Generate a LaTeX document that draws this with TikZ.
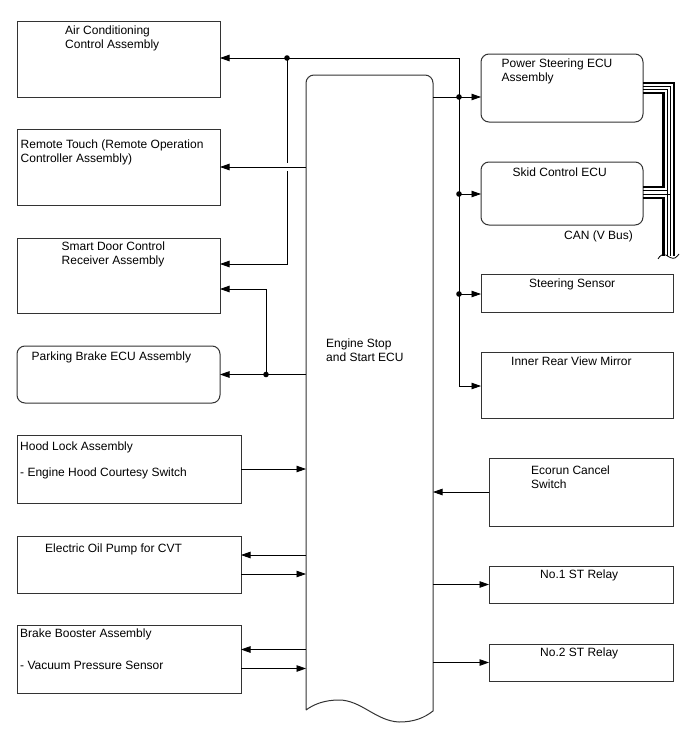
\documentclass[tikz,border=0pt]{standalone}
\usepackage{fontspec}
\setmainfont{Liberation Sans}
\usetikzlibrary{arrows.meta}
\begin{document}
\begin{tikzpicture}[x=1pt,y=-1pt,
  box/.style={draw=black!80, line width=1pt, rectangle, inner sep=0pt, outer sep=0pt, anchor=north west},
  rbox/.style={box, rounded corners=8pt},
  lbl/.style={anchor=north west, inner sep=0pt, align=left, font=\fontsize{12}{14}\selectfont},
  wire/.style={draw=black, line width=0.8pt},
  arr/.style={wire, -{Triangle[length=9.5pt,width=6.5pt]}},
  dot/.style={fill=black},
  canthick/.style={draw=black, line width=2.8pt},
  canthin/.style={draw=black, line width=0.8pt}]
\useasboundingbox (0,0) rectangle (688,755);
\fill[white] (0,0) rectangle (688,755);

% left boxes
\node[box, minimum width=203pt, minimum height=76pt] (ac) at (17,21) {};
\node[box, minimum width=203pt, minimum height=76pt] (rt) at (17,129) {};
\node[box, minimum width=203pt, minimum height=75pt] (sd) at (17,238) {};
\node[rbox, minimum width=203pt, minimum height=57pt] (pb) at (17,346) {};
\node[box, minimum width=224pt, minimum height=68pt] (hl) at (17,435) {};
\node[box, minimum width=224pt, minimum height=57pt] (eop) at (17,536) {};
\node[box, minimum width=224pt, minimum height=68pt] (bb) at (17,625) {};

% right boxes
\node[rbox, minimum width=162pt, minimum height=68pt] (ps) at (481,54) {};
\node[rbox, minimum width=162pt, minimum height=63pt] (sk) at (481,162) {};
\node[box, minimum width=192pt, minimum height=38pt] (ss) at (481,274) {};
\node[box, minimum width=192pt, minimum height=66pt] (irm) at (481,352) {};
\node[box, minimum width=184pt, minimum height=68pt] (ec) at (489,458) {};
\node[box, minimum width=184pt, minimum height=37pt] (r1) at (489,566) {};
\node[box, minimum width=184pt, minimum height=37pt] (r2) at (489,644) {};

% central ECU
\node[rectangle, inner sep=0pt, outer sep=0pt, anchor=north west, minimum width=127pt, minimum height=636pt] (ecu) at (306,75) {};
\draw[black!80, line width=1pt]
  (306,710) -- (306,83) arc[start angle=180, end angle=90, x radius=8pt, y radius=8pt]
  -- (425,75) arc[start angle=90, end angle=0, x radius=8pt, y radius=8pt]
  -- (433,711)
  .. controls (424,718) and (414,722) .. (399,722)
  .. controls (376,721) and (361,700) .. (339,700)
  .. controls (325,700) and (314,704) .. (306,710);

% labels
\node[lbl] (tac) at (65,25.5) {Air Conditioning\\Control Assembly};
\node[lbl] (trt) at (20.5,139.5) {Remote Touch (Remote Operation\\Controller Assembly)};
\node[lbl] (tsd) at (61.5,241.5) {Smart Door Control\\Receiver Assembly};
\node[lbl] (tpb) at (31.5,351.5) {Parking Brake ECU Assembly};
\node[lbl] (thl1) at (20,441.5) {Hood Lock Assembly};
\node[lbl] (thl2) at (20,467.5) {- Engine Hood Courtesy Switch};
\node[lbl] (teop) at (45,543.5) {Electric Oil Pump for CVT};
\node[lbl] (tbb1) at (20,628.5) {Brake Booster Assembly};
\node[lbl] (tbb2) at (20,660.5) {- Vacuum Pressure Sensor};
\node[lbl] (tecu) at (326,339) {Engine Stop\\and Start ECU};
\node[lbl] (tps) at (501.5,59) {Power Steering ECU\\Assembly};
\node[lbl] (tsk) at (512.5,168) {Skid Control ECU};
\node[lbl] (tcan) at (564,230.5) {CAN (V Bus)};
\node[lbl] (tss) at (529,279) {Steering Sensor};
\node[lbl] (tirm) at (511,357) {Inner Rear View Mirror};
\node[lbl] (tec) at (531,465.5) {Ecorun Cancel\\Switch};
\node[lbl] (tr1) at (540,569.5) {No.1 ST Relay};
\node[lbl] (tr2) at (540,647.5) {No.2 ST Relay};

% junction coordinates
\coordinate (jtop) at (459,58);
\coordinate (jps) at (459,97);
\coordinate (jsk) at (459,194);
\coordinate (jss) at (459,294);
\coordinate (jirm) at (459,386);
\coordinate (jac) at (287,58);
\coordinate (gapa) at (287,163);
\coordinate (gapb) at (287,171);
\coordinate (jsd1) at (287,264);
\coordinate (jsd2) at (266,289);
\coordinate (jpb) at (266,374.5);

% right bus
\draw[wire] (ecu.east |- jps) -- (jps);
\draw[arr] (jps) -- (ps.west |- jps);
\draw[arr] (jsk) -- (sk.west |- jsk);
\draw[arr] (jss) -- (ss.west |- jss);
\draw[arr] (jtop) -- (jirm) -- (irm.west |- jirm);
\draw[arr] (jtop) -- (ac.east |- jtop);
\fill[dot] (jps) circle (2.8pt);
\fill[dot] (jsk) circle (2.8pt);
\fill[dot] (jss) circle (2.8pt);

% left bus
\fill[dot] (jac) circle (2.8pt);
\draw[wire] (jac) -- (gapa);
\draw[arr] (gapb) -- (jsd1) -- (sd.east |- jsd1);
\draw[arr] (ecu.west |- rt.east) -- (rt.east);
\draw[arr] (ecu.west |- pb.east) -- (pb.east);
\draw[arr] (jpb) -- (jsd2) -- (sd.east |- jsd2);
\fill[dot] (jpb) circle (2.8pt);

% lower left
\draw[arr] (hl.east) -- (ecu.west |- hl.east);
\draw[arr] (ecu.west |- 0,555) -- (eop.east |- 0,555);
\draw[arr] (eop.east |- 0,574) -- (ecu.west |- 0,574);
\draw[arr] (ecu.west |- 0,649.5) -- (bb.east |- 0,649.5);
\draw[arr] (bb.east |- 0,668.5) -- (ecu.west |- 0,668.5);

% lower right
\draw[arr] (ec.west) -- (ecu.east |- ec.west);
\draw[arr] (ecu.east |- r1.west) -- (r1.west);
\draw[arr] (ecu.east |- r2.west) -- (r2.west);

% CAN bus
\draw[canthick] (ps.east |- 0,83) -- (674,83) -- (674,256);
\draw[canthin] (ps.east |- 0,86.5) -- (670,86.5) -- (670,256);
\draw[canthin] (ps.east |- 0,89.5) -- (667,89.5) -- (667,256);
\draw[canthick] (ps.east |- 0,93) -- (663.5,93) -- (663.5,187) -- (sk.east |- 0,187);
\draw[canthin] (sk.east |- 0,190.5) -- (667,190.5);
\draw[canthin] (sk.east |- 0,194) -- (670,194);
\draw[canthick] (sk.east |- 0,198) -- (663.5,198) -- (663.5,256);
\draw[line width=0.8pt] (658,259) .. controls (660,255) and (663,254) .. (666,255)
  .. controls (669,257) and (672,259) .. (675,258) .. controls (677,257) and (678,255) .. (679,254);
\end{tikzpicture}
\end{document}
